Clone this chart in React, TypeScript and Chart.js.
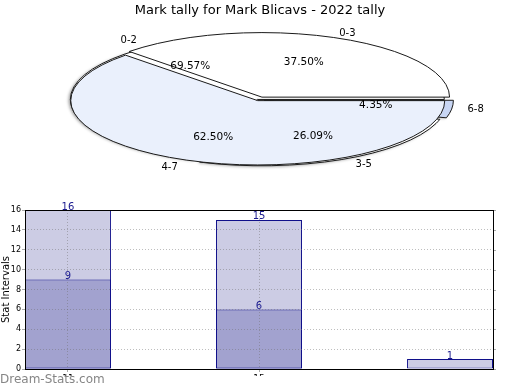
import React, { useEffect, useRef } from 'react';
import { Chart, registerables } from 'chart.js';

Chart.register(...registerables);

// ---------- data ----------
const titleText = 'Mark tally for Mark Blicavs - 2022 tally';
const pieALabels = ['0-3', '4-7'];
const pieAValues = [9, 15];
const pieBLabels = ['0-2', '3-5', '6-8'];
const pieBValues = [16, 6, 1];

const barCategories = ['11', '15', ''];
const barTotals = [16, 15, 1];
const barSubset = [9, 6, 0];
const yMax = 16;
const yStep = 2;
const yAxisTitle = 'Stat Intervals';
const watermark = 'Dream-Stats.com';

// ---------- styling ----------
const FONT = '"DejaVu Sans", sans-serif';
const PIE = { cx: 258.5, cy: 100, r: 185, k: 0.344 };

const piePlugin = {
  id: 'ellipsePie',
  afterDatasetsUpdate(chart: any) {
    chart.data.datasets.forEach((_: any, di: number) => {
      chart.getDatasetMeta(di).data.forEach((arc: any) => {
        arc.innerRadius = 0;
        arc.outerRadius = PIE.r;
      });
    });
  },
  beforeDatasetDraw(chart: any, args: any) {
    const ctx = chart.ctx;
    const a = args.meta.data[0];
    ctx.save();
    if (args.index === 1) {
      ctx.shadowColor = 'rgba(0,0,0,0.35)';
      ctx.shadowBlur = 3;
      ctx.shadowOffsetX = -2;
      ctx.shadowOffsetY = 1;
    }
    ctx.translate(PIE.cx, PIE.cy);
    ctx.scale(1, -PIE.k);
    ctx.translate(-a.x, -a.y);
  },
  afterDatasetDraw(chart: any, args: any) {
    const ctx = chart.ctx;
    ctx.restore();
    args.meta.data.forEach((arc: any) => {
      const off = (arc.options.offset || 0) / 4;
      const mid = (arc.startAngle + arc.endAngle) / 2;
      const fix = 1 - Math.sin(Math.min(Math.PI, arc.circumference || 0));
      const rr = arc.outerRadius + off * fix;
      ctx.save();
      ctx.translate(PIE.cx, PIE.cy);
      ctx.scale(1, -PIE.k);
      ctx.translate(-arc.x, -arc.y);
      ctx.translate(Math.cos(mid) * off, Math.sin(mid) * off);
      ctx.beginPath();
      ctx.moveTo(arc.x, arc.y);
      ctx.arc(arc.x, arc.y, rr, arc.startAngle, arc.endAngle);
      ctx.closePath();
      ctx.restore();
      ctx.save();
      ctx.lineWidth = 1;
      ctx.strokeStyle = '#1a1a1a';
      ctx.stroke();
      ctx.restore();
    });
  },
  afterDraw(chart: any) {
    const ctx = chart.ctx;
    const sets: [number, string[]][] = [
      [0, pieALabels],
      [1, pieBLabels],
    ];
    ctx.save();
    ctx.fillStyle = '#000';
    ctx.textBaseline = 'middle';
    sets.forEach(([di, labels]) => {
      const vals = chart.data.datasets[di].data as number[];
      const total = vals.reduce((s, v) => s + v, 0);
      chart.getDatasetMeta(di).data.forEach((arc: any, i: number) => {
        const mid = (arc.startAngle + arc.endAngle) / 2;
        const c = Math.cos(mid);
        const s = Math.sin(mid);
        ctx.font = `10.5px ${FONT}`;
        ctx.textAlign = 'center';
        const pct = ((vals[i] / total) * 100).toFixed(2) + '%';
        ctx.fillText(pct, PIE.cx + c * 0.64 * PIE.r, PIE.cy - s * 0.64 * PIE.r * PIE.k);
        ctx.font = `10px ${FONT}`;
        ctx.textAlign = c >= 0 ? 'left' : 'right';
        ctx.fillText(labels[i], PIE.cx + c * 1.14 * PIE.r, PIE.cy - s * 1.14 * PIE.r * PIE.k);
      });
    });
    ctx.restore();
  },
};

const barPlugin = {
  id: 'barExtras',
  afterDraw(chart: any) {
    const ctx = chart.ctx;
    const ca = chart.chartArea;
    const yScale = chart.scales.y;
    ctx.save();
    // right-hand tick marks
    ctx.strokeStyle = '#aaa';
    ctx.lineWidth = 1;
    yScale.ticks.forEach((_: any, i: number) => {
      const py = Math.round(yScale.getPixelForTick(i)) + 0.5;
      ctx.beginPath();
      ctx.moveTo(ca.right, py);
      ctx.lineTo(ca.right + 3, py);
      ctx.stroke();
    });
    // frame
    ctx.strokeStyle = '#000';
    ctx.strokeRect(ca.left + 0.5, ca.top + 0.5, ca.right - ca.left, ca.bottom - ca.top);
    // value labels
    ctx.fillStyle = '#1a1a8f';
    ctx.font = `10px ${FONT}`;
    ctx.textAlign = 'center';
    ctx.textBaseline = 'alphabetic';
    chart.data.datasets.forEach((ds: any, di: number) => {
      chart.getDatasetMeta(di).data.forEach((bar: any, i: number) => {
        const v = ds.data[i].y;
        if (!v) return;
        ctx.fillText(String(v), bar.x, bar.y - 0.5);
      });
    });
    ctx.restore();
  },
};

export default function App() {
  const pieRef = useRef<HTMLCanvasElement>(null);
  const barRef = useRef<HTMLCanvasElement>(null);

  useEffect(() => {
    const pie = new Chart(pieRef.current as HTMLCanvasElement, {
      type: 'pie',
      data: {
        labels: pieBLabels,
        datasets: [
          {
            data: pieAValues,
            backgroundColor: ['#ffffff', '#eaf0fc'],
            offset: [36, 8],
            borderWidth: 0,
            clip: false,
          } as any,
          {
            data: pieBValues,
            backgroundColor: ['#ffffff', '#ffffff', '#c8d6f4'],
            offset: [8, 28, 23],
            borderWidth: 0,
            clip: false,
          } as any,
        ],
      },
      options: {
        responsive: false,
        animation: false,
        events: [],
        rotation: 90,
        radius: PIE.r,
        spacing: 0,
        layout: { padding: 0 },
        plugins: {
          legend: { display: false },
          tooltip: { enabled: false },
          title: {
            display: true,
            text: titleText,
            color: '#000',
            font: { family: FONT, size: 13, weight: 'normal' },
            padding: { top: 3, bottom: 0 },
          },
        },
      } as any,
      plugins: [piePlugin],
    });

    const bar = new Chart(barRef.current as HTMLCanvasElement, {
      type: 'bar',
      data: {
        datasets: [
          {
            label: 'subset',
            data: barSubset.map((v, i) => ({ x: i, y: v })),
            backgroundColor: '#a2a2cf',
            borderColor: '#10108a',
            borderWidth: 1,
            borderSkipped: false,
            grouped: false,
            order: 0,
            barPercentage: 0.45,
            categoryPercentage: 1,
          } as any,
          {
            label: 'total',
            data: barTotals.map((v, i) => ({ x: i, y: v })),
            backgroundColor: '#ccccE4',
            borderColor: '#10108a',
            borderWidth: 1,
            borderSkipped: false,
            grouped: false,
            order: 1,
            barPercentage: 0.45,
            categoryPercentage: 1,
          } as any,
        ],
      },
      options: {
        responsive: false,
        animation: false,
        events: [],
        layout: { padding: { top: 20, left: 0, right: 27, bottom: 0 } },
        plugins: { legend: { display: false }, tooltip: { enabled: false } },
        scales: {
          x: {
            type: 'linear',
            offset: false,
            min: -0.225,
            max: barCategories.length - 1 + 0.225,
            afterFit: (s: any) => {
              s.height = 21;
            },
            afterBuildTicks: (s: any) => {
              s.ticks = s.ticks.filter((t: any) => !!barCategories[t.value]);
            },
            ticks: {
              stepSize: 1,
              includeBounds: false,
              autoSkip: false,
              maxRotation: 0,
              callback: (v: any) => barCategories[v] ?? '',
              color: '#000',
              font: { family: FONT, size: 9 },
              padding: 1,
            },
            grid: {
              offset: false,
              z: 1,
              color: 'rgba(110,110,110,0.45)',
              tickLength: 3,
              tickColor: '#aaa',
            },
            border: { display: false, dash: [1, 2] },
          },
          y: {
            min: 0,
            max: yMax,
            afterFit: (s: any) => {
              s.width = 25;
            },
            ticks: { stepSize: yStep, color: '#000', font: { family: FONT, size: 8 }, padding: 1 },
            grid: { z: 1, color: 'rgba(110,110,110,0.45)', tickLength: 3, tickColor: '#aaa' },
            border: { display: false, dash: [1, 2] },
            title: {
              display: true,
              text: yAxisTitle,
              color: '#000',
              font: { family: FONT, size: 10 },
              padding: 0,
            },
          },
        },
      } as any,
      plugins: [barPlugin],
    });

    return () => {
      pie.destroy();
      bar.destroy();
    };
  }, []);

  return (
    <div
      style={{
        position: 'fixed',
        left: 0,
        top: 0,
        width: 520,
        height: 390,
        background: '#fff',
        overflow: 'hidden',
      }}
    >
      <canvas
        ref={pieRef}
        width={520}
        height={390}
        style={{ position: 'absolute', left: 0, top: 0, width: 520, height: 390 }}
      />
      <div
        style={{
          position: 'absolute',
          left: 0,
          top: 190,
          width: 520,
          height: 186,
          overflow: 'hidden',
        }}
      >
        <canvas
          ref={barRef}
          width={520}
          height={200}
          style={{ position: 'absolute', left: 0, top: 0, width: 520, height: 200 }}
        />
      </div>
      <div
        style={{
          position: 'absolute',
          left: 0,
          top: 372,
          fontFamily: FONT,
          fontSize: 12,
          lineHeight: '14px',
          color: 'rgba(120,120,120,0.9)',
          whiteSpace: 'nowrap',
        }}
      >
        {watermark}
      </div>
    </div>
  );
}
